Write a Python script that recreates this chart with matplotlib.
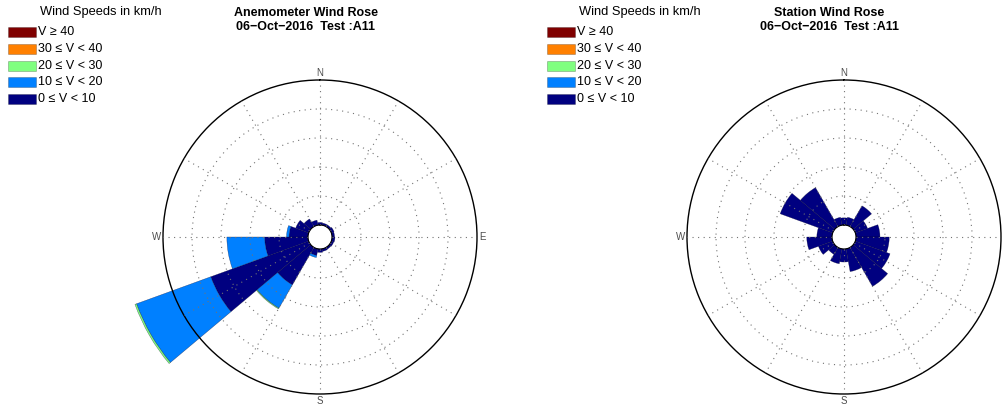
import numpy as np
import matplotlib.pyplot as plt
from matplotlib.patches import Rectangle

plt.rcParams['font.family'] = ['Liberation Sans', 'DejaVu Sans']

W, H = 1002, 405

# direction sectors (deg, clockwise from north), 20 deg wide
directions = np.arange(0, 360, 20)
speed_labels = ['0 \u2264 V < 10', '10 \u2264 V < 20', '20 \u2264 V < 30',
                '30 \u2264 V < 40', 'V \u2265 40']
speed_colors = ['#000080', '#0080ff', '#80ff80', '#ff8000', '#800000']

# frequency (%) per direction for each speed bin
#              0    20   40   60   80   100  120  140  160  180  200  220   240   260   280  300  320  340
anem_0_10  = [0.6, 0.5, 0.5, 0.7, 0.6, 0.7, 0.6, 0.5, 0.6, 0.8, 1.6, 10.3, 24.8, 10.3, 4.5, 3.3, 2.1, 1.2]
anem_10_20 = [0.0, 0.0, 0.0, 0.0, 0.0, 0.0, 0.0, 0.0, 0.0, 0.0, 0.5, 6.4, 18.8, 9.0, 0.6, 0.0, 0.0, 0.0]
anem_20_30 = [0.0, 0.0, 0.0, 0.0, 0.0, 0.0, 0.0, 0.0, 0.0, 0.0, 0.0, 0.2, 0.4, 0.0, 0.0, 0.0, 0.0, 0.0]
anem_30_40 = [0.0] * 18
anem_40_up = [0.0] * 18

stat_0_10  = [1.7, 1.9, 5.7, 3.1, 5.7, 7.9, 8.8, 10.7, 5.5, 3.1, 3.6, 1.9, 3.6, 6.0, 3.6, 13.3, 10.7, 1.9]
stat_10_20 = [0.0] * 18
stat_20_30 = [0.0] * 18
stat_30_40 = [0.0] * 18
stat_40_up = [0.0] * 18

r_max = 34.5    # outer circle
r_hole = 2.86   # empty centre
rings = np.linspace(0, r_max, 6)[1:-1]


def fx(x):
    return x / W


def fy(y):
    return 1 - y / H


def rose(cx, title_x, leg_x, title, bins, compass):
    rad = 157
    ax = fig.add_axes([fx(cx - rad), 11 / H, 2 * rad / W, 2 * rad / H], projection='polar')
    ax.set_theta_zero_location('N')
    ax.set_theta_direction(-1)
    bottom = np.zeros(len(directions))
    for vals, col in zip(bins, speed_colors):
        vals = np.array(vals)
        m = vals > 0
        if m.any():
            ax.bar(np.deg2rad(directions[m]), vals[m], width=np.deg2rad(20), bottom=bottom[m],
                   color=col, edgecolor=(0, 0, 0.15, 0.6), linewidth=0.3, clip_on=False, zorder=1)
        bottom += vals
    ax.set_ylim(0, r_max)
    ax.set_rorigin(-r_hole)
    ax.set_rgrids(rings, labels=[''] * len(rings))
    ax.set_thetagrids(np.arange(0, 360, 30), labels=[''] * 12)
    ax.grid(True, color='0.45', linestyle=(0, (1, 4)), linewidth=0.8)
    ax.set_axisbelow(False)
    ax.spines['polar'].set_linewidth(1.0)
    ax.spines['polar'].set_color('black')

    # compass labels just outside the outer circle
    place = {'N': (0, 'center', 'bottom'), 'E': (90, 'left', 'center'),
             'S': (180, 'center', 'top'), 'W': (270, 'right', 'center')}
    for lab in compass:
        ang, ha, va = place[lab]
        ax.text(np.deg2rad(ang), r_max + 0.5, lab, ha=ha, va=va, fontsize=7,
                color='0.3', clip_on=False)

    fig.text(fx(title_x), fy(13), title[0], ha='center', va='center',
             fontsize=9, fontweight='bold')
    fig.text(fx(title_x), fy(27), title[1], ha='center', va='center',
             fontsize=9, fontweight='bold')

    # legend, top-left
    fig.text(fx(leg_x + 32), fy(12), 'Wind Speeds in km/h', ha='left', va='center', fontsize=9.3)
    rows = [99, 82, 66, 49, 32]
    for i, (lab, col) in enumerate(zip(speed_labels, speed_colors)):
        y = rows[i]
        fig.patches.append(Rectangle((fx(leg_x), fy(y + 5)), 28 / W, 10 / H,
                                     transform=fig.transFigure, facecolor=col,
                                     edgecolor=(0, 0, 0, 0.25), linewidth=0.6))
        fig.text(fx(leg_x + 30), fy(y), lab, ha='left', va='center', fontsize=9)
    return ax


fig = plt.figure(figsize=(W / 100, H / 100), dpi=100)

rose(320, 306, 8, ['Anemometer Wind Rose', '06\u2212Oct\u22122016  Test :A11'],
     [anem_0_10, anem_10_20, anem_20_30, anem_30_40, anem_40_up], 'NESW')
rose(844, 829, 547, ['Station Wind Rose', '06\u2212Oct\u22122016  Test :A11'],
     [stat_0_10, stat_10_20, stat_20_30, stat_30_40, stat_40_up], 'NSW')

fig.savefig('out.png', dpi=100)
